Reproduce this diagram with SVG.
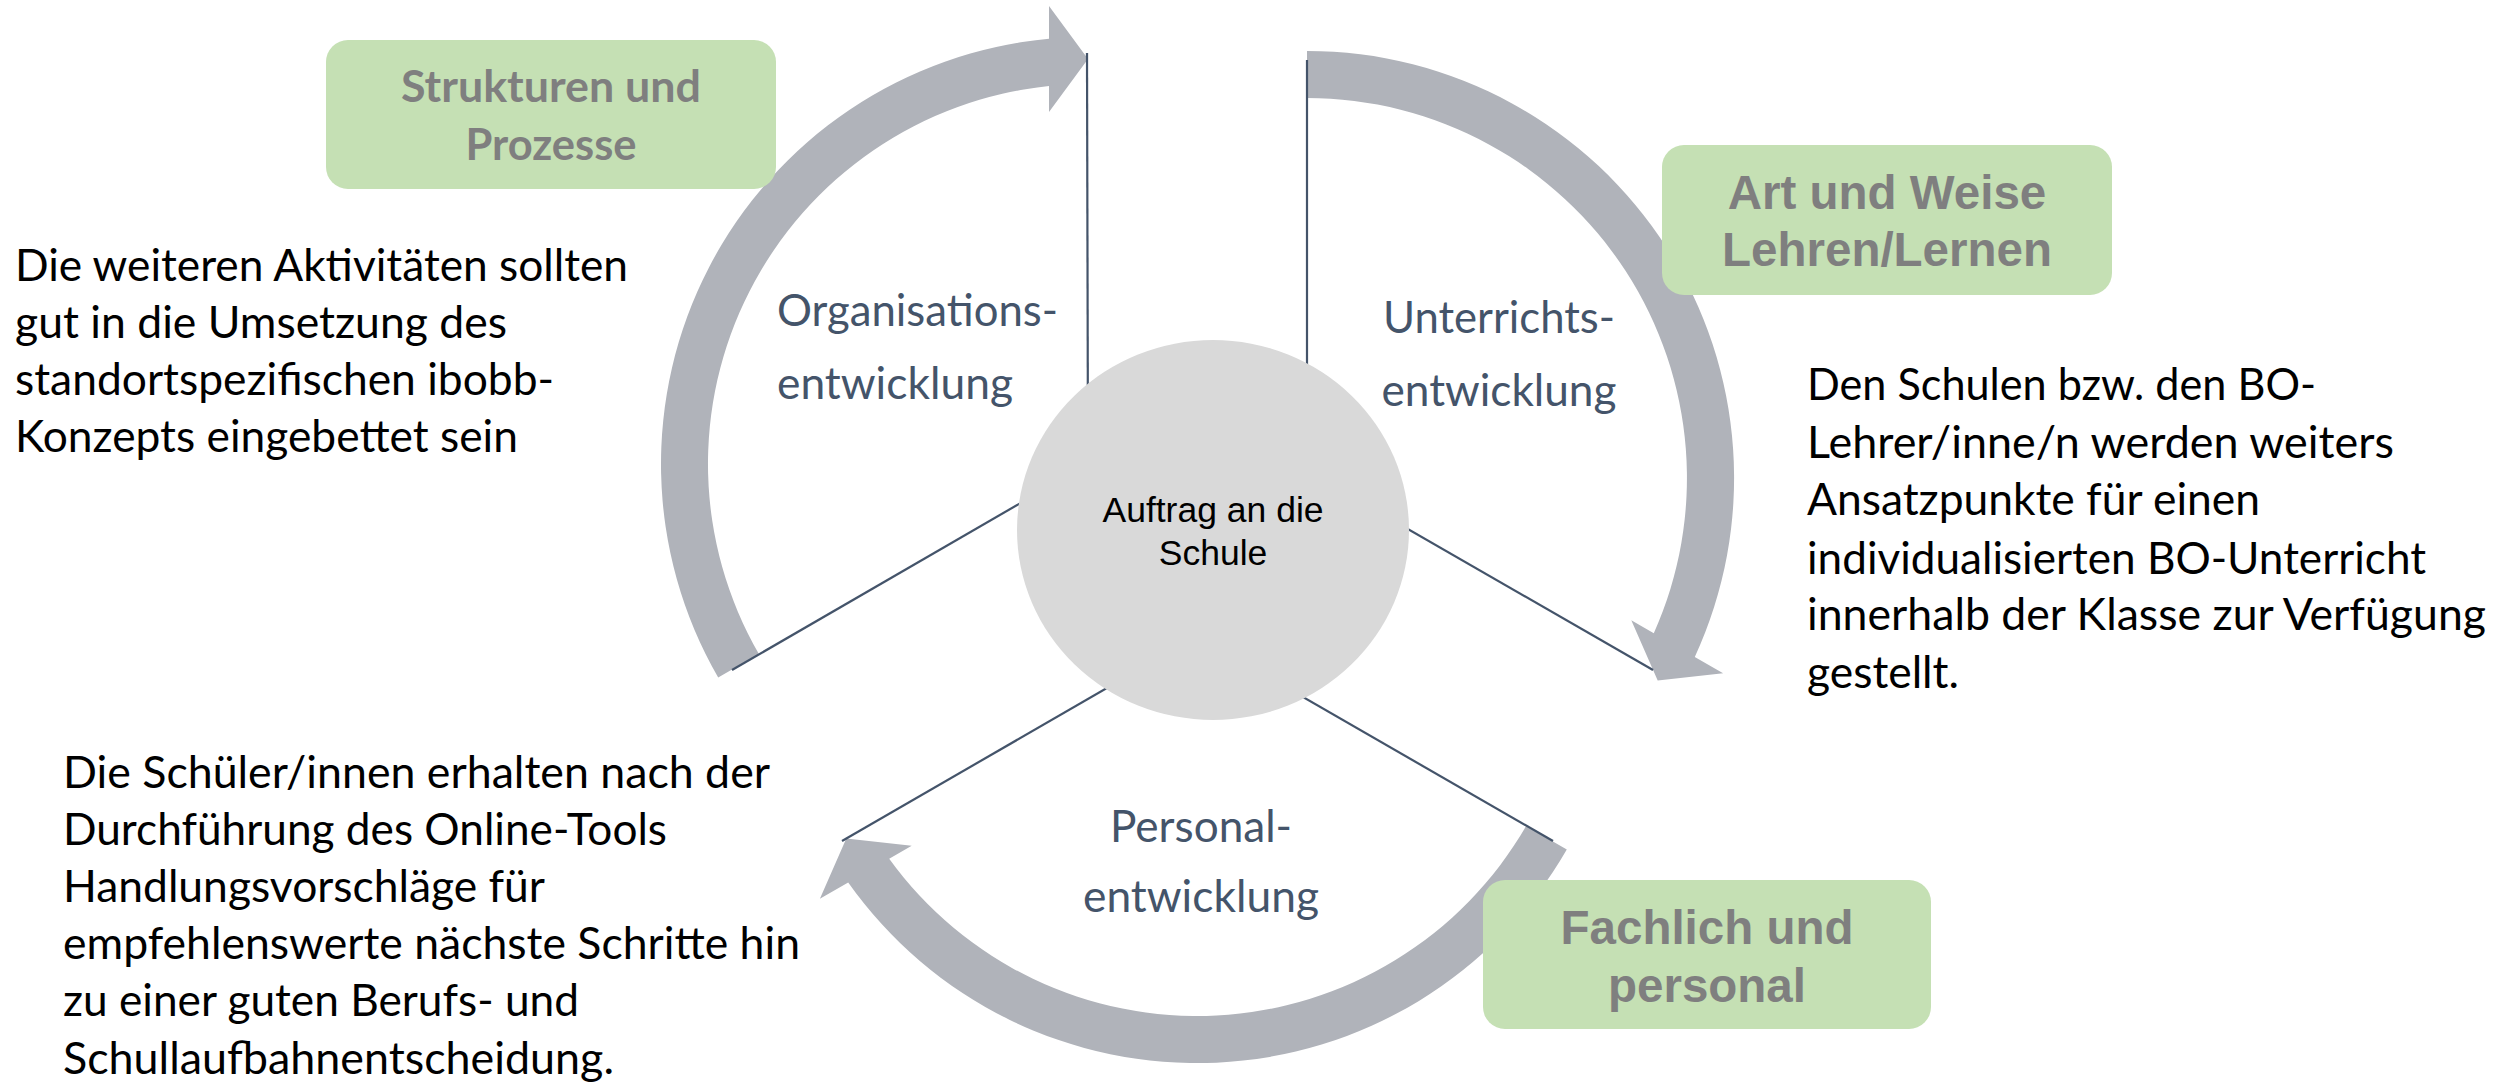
<svg xmlns="http://www.w3.org/2000/svg" width="2496" height="1082" viewBox="0 0 2496 1082">
<style>
.arc{fill:#B0B3BA;stroke:none}
.div{stroke:#44546A;stroke-width:2.2;fill:none}
.box{fill:#C5E0B4}
.boxt{font-family:"Liberation Sans",Arial,sans-serif;font-weight:bold;font-size:47.5px;fill:#7F7F7F;text-anchor:middle}
.boxc{font-family:Lato,"Open Sans",sans-serif;font-weight:bold;font-size:44px;fill:#7F7F7F;text-anchor:middle}
.lab{font-family:Lato,"Open Sans",sans-serif;font-size:44px;fill:#44546A}
.body{font-family:Lato,"Open Sans",sans-serif;font-size:44px;fill:#000000}
.ctr{font-family:"Liberation Sans",Arial,sans-serif;font-size:35.5px;fill:#000000;text-anchor:middle}
</style>
<rect width="2496" height="1082" fill="#FFFFFF"/>
<g id="arrows">
<path class="arc" d="M 718.2 677.5 A 427 427 0 0 1 1049 38.8 L 1049 6 L 1088 59 L 1049 112 L 1049 86 A 380 380 0 0 0 758.9 654 Z"/>
<path class="arc" d="M 1307 51 A 427 427 0 0 1 1694.8 656.9 L 1723.1 673.2 L 1657.7 680.5 L 1631.3 620.2 L 1653.8 633.2 A 380 380 0 0 0 1307 98 Z"/>
<path class="arc" d="M 1566.8 849.5 A 427 427 0 0 1 848.2 882.5 L 819.9 898.8 L 846.3 838.5 L 911.7 845.8 L 889.2 858.8 A 380 380 0 0 0 1526.1 826 Z"/>
</g>
<g id="connectors">
<line class="div" x1="1087" y1="53" x2="1088" y2="464"/>
<line class="div" x1="1088" y1="464" x2="732" y2="670"/>
<line class="div" x1="1307" y1="60" x2="1307" y2="471"/>
<line class="div" x1="1307" y1="471" x2="1653" y2="670"/>
<line class="div" x1="1197" y1="636" x2="1553" y2="841"/>
<line class="div" x1="1197" y1="636" x2="842" y2="841"/>
</g>
<g id="center">
<ellipse cx="1213" cy="530" rx="196" ry="190" fill="#D9D9D9"/>
<text class="ctr" x="1213" y="522">Auftrag an die</text>
<text class="ctr" x="1213" y="565">Schule</text>
</g>
<g id="label-organisation">
<text class="lab" x="777" y="326" textLength="281" lengthAdjust="spacingAndGlyphs">Organisations-</text>
<text class="lab" x="777" y="399" textLength="236" lengthAdjust="spacingAndGlyphs">entwicklung</text>
</g>
<g id="label-unterricht">
<text class="lab" x="1499" y="333" text-anchor="middle" textLength="232" lengthAdjust="spacingAndGlyphs">Unterrichts-</text>
<text class="lab" x="1499" y="406" text-anchor="middle" textLength="235" lengthAdjust="spacingAndGlyphs">entwicklung</text>
</g>
<g id="label-personal">
<text class="lab" x="1201" y="842" text-anchor="middle" textLength="182" lengthAdjust="spacingAndGlyphs">Personal-</text>
<text class="lab" x="1201" y="912" text-anchor="middle" textLength="236" lengthAdjust="spacingAndGlyphs">entwicklung</text>
</g>
<g id="box-strukturen">
<rect class="box" x="326" y="40" width="450" height="149" rx="22"/>
<text class="boxc" x="551" y="102" textLength="300" lengthAdjust="spacingAndGlyphs">Strukturen und</text>
<text class="boxc" x="551" y="160" textLength="171" lengthAdjust="spacingAndGlyphs">Prozesse</text>
</g>
<g id="box-artweise">
<rect class="box" x="1662" y="145" width="450" height="150" rx="22"/>
<text class="boxt" x="1887" y="209">Art und Weise</text>
<text class="boxt" x="1887" y="266">Lehren/Lernen</text>
</g>
<g id="box-fachlich">
<rect class="box" x="1483" y="880" width="448" height="149" rx="22"/>
<text class="boxt" x="1707" y="944">Fachlich und</text>
<text class="boxt" x="1707" y="1002">personal</text>
</g>
<g id="text-left">
<text class="body" x="15" y="281" textLength="613" lengthAdjust="spacingAndGlyphs">Die weiteren Aktivitäten sollten</text>
<text class="body" x="15" y="338" textLength="492" lengthAdjust="spacingAndGlyphs">gut in die Umsetzung des</text>
<text class="body" x="15" y="395" textLength="539" lengthAdjust="spacingAndGlyphs">standortspezifischen ibobb-</text>
<text class="body" x="15" y="452" textLength="503" lengthAdjust="spacingAndGlyphs">Konzepts eingebettet sein</text>
</g>
<g id="text-right">
<text class="body" x="1807" y="400" textLength="509" lengthAdjust="spacingAndGlyphs">Den Schulen bzw. den BO-</text>
<text class="body" x="1807" y="458" textLength="587" lengthAdjust="spacingAndGlyphs">Lehrer/inne/n werden weiters</text>
<text class="body" x="1807" y="515" textLength="453" lengthAdjust="spacingAndGlyphs">Ansatzpunkte für einen</text>
<text class="body" x="1807" y="574" textLength="619" lengthAdjust="spacingAndGlyphs">individualisierten BO-Unterricht</text>
<text class="body" x="1807" y="630" textLength="679" lengthAdjust="spacingAndGlyphs">innerhalb der Klasse zur Verfügung</text>
<text class="body" x="1807" y="688" textLength="152" lengthAdjust="spacingAndGlyphs">gestellt.</text>
</g>
<g id="text-bottom">
<text class="body" x="63" y="788" textLength="707" lengthAdjust="spacingAndGlyphs">Die Schüler/innen erhalten nach der</text>
<text class="body" x="63" y="845" textLength="604" lengthAdjust="spacingAndGlyphs">Durchführung des Online-Tools</text>
<text class="body" x="63" y="902" textLength="482" lengthAdjust="spacingAndGlyphs">Handlungsvorschläge für</text>
<text class="body" x="63" y="959" textLength="737" lengthAdjust="spacingAndGlyphs">empfehlenswerte nächste Schritte hin</text>
<text class="body" x="63" y="1016" textLength="516" lengthAdjust="spacingAndGlyphs">zu einer guten Berufs- und</text>
<text class="body" x="63" y="1074" textLength="551" lengthAdjust="spacingAndGlyphs">Schullaufbahnentscheidung.</text>
</g>
</svg>
